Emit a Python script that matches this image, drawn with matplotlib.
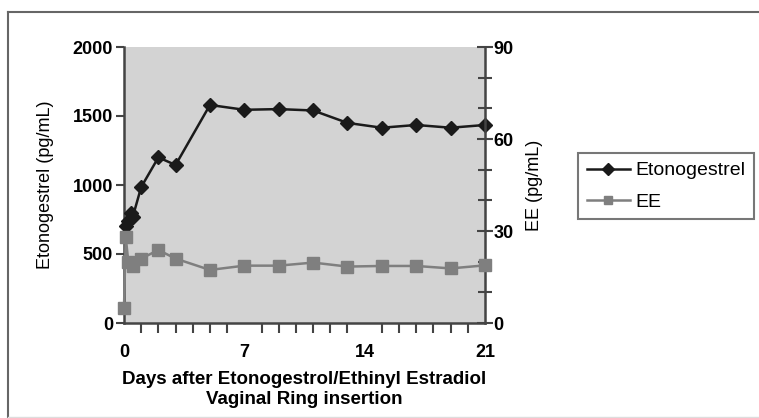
import matplotlib
matplotlib.use("Agg")
import matplotlib.pyplot as plt
from matplotlib.ticker import MultipleLocator, FixedLocator

plt.rcParams['font.family'] = ['Liberation Sans', 'DejaVu Sans']

# data
eto_days = [0.1, 0.25, 0.4, 0.5, 1, 2, 3, 5, 7, 9, 11, 13, 15, 17, 19, 21]
eto_vals = [700, 740, 800, 765, 985, 1200, 1145, 1580, 1545, 1550, 1540, 1450, 1415, 1435, 1415, 1435]
ee_days = [0, 0.1, 0.25, 0.5, 1, 2, 3, 5, 7, 9, 11, 13, 15, 17, 19, 21]
ee_vals = [5, 28, 20, 18.5, 21, 23.8, 21, 17.3, 18.7, 18.7, 19.7, 18.4, 18.6, 18.6, 17.8, 18.8]
x_ticks = [0, 7, 14, 21]
left_ticks = [0, 500, 1000, 1500, 2000]
right_ticks = [0, 30, 60, 90]

fig = plt.figure(figsize=(7.59, 4.18), dpi=100)
# outer frame of the original figure (left and top edges, faint bottom)
tf = fig.transFigure
fig.add_artist(plt.Line2D([8 / 759, 8 / 759], [0, 1 - 12 / 418], transform=tf,
                          color='#666666', linewidth=1.5))
fig.add_artist(plt.Line2D([8 / 759, 1], [1 - 12 / 418, 1 - 12 / 418], transform=tf,
                          color='#666666', linewidth=1.5))
fig.add_artist(plt.Line2D([8 / 759, 1], [1 / 418, 1 / 418], transform=tf,
                          color='#dddddd', linewidth=1))

ax = fig.add_axes([124 / 759, 1 - 323 / 418, (485 - 124) / 759, (323 - 47) / 418])
ax.set_facecolor('#d3d3d3')
ax2 = ax.twinx()

ax.plot(eto_days, eto_vals, color='#1a1a1a', marker='D', markersize=7,
        linewidth=1.8, clip_on=False, zorder=5, label='Etonogestrel')
ax2.plot(ee_days, ee_vals, color='#7f7f7f', marker='s', markersize=9,
         linewidth=1.8, clip_on=False, zorder=5, label='EE')

ax.set_xlim(0, 21)
ax.set_ylim(0, 2000)
ax2.set_ylim(0, 90)

ax.xaxis.set_major_locator(FixedLocator(x_ticks))
ax.xaxis.set_minor_locator(MultipleLocator(1))
ax.yaxis.set_major_locator(FixedLocator(left_ticks))
ax2.yaxis.set_major_locator(FixedLocator(right_ticks))
ax2.yaxis.set_minor_locator(MultipleLocator(10))

for a in (ax, ax2):
    for s in a.spines.values():
        s.set_visible(False)
ax.spines['left'].set_visible(True)
ax.spines['bottom'].set_visible(True)
ax2.spines['right'].set_visible(True)
for s in ('left', 'bottom'):
    ax.spines[s].set_color('#444444')
    ax.spines[s].set_linewidth(1.8)
ax2.spines['right'].set_color('#444444')
ax2.spines['right'].set_linewidth(1.8)

ax.tick_params(axis='x', which='major', length=0, labelsize=13, pad=15)
ax.tick_params(axis='x', which='minor', direction='out', length=7, width=1.5,
               color='#444444')
ax.tick_params(axis='y', direction='out', length=6, width=1.5,
               color='#444444', labelsize=13, pad=2)
ax2.tick_params(axis='y', which='major', direction='inout', length=12, width=1.5,
                color='#444444', labelsize=13, pad=0)
ax2.tick_params(axis='y', which='minor', direction='inout', length=10, width=1.5,
                color='#444444')
for lbl in ax.get_xticklabels() + ax.get_yticklabels() + ax2.get_yticklabels():
    lbl.set_fontweight('bold')

ax.set_ylabel('Etonogestrel (pg/mL)', fontsize=13)
ax.yaxis.set_label_coords(-(124 - 54) / 361, 0.5)
ax2.set_ylabel('EE (pg/mL)', fontsize=13)
ax2.yaxis.set_label_coords(1 + (526 - 485) / 361, 0.5)
ax.set_xlabel('Days after Etonogestrol/Ethinyl Estradiol\nVaginal Ring insertion',
              fontsize=13.5, fontweight='bold', labelpad=7, linespacing=1.3)

h1, l1 = ax.get_legend_handles_labels()
h2, l2 = ax2.get_legend_handles_labels()
leg = fig.legend(h1 + h2, l1 + l2, loc='upper left',
                 bbox_to_anchor=(578 / 759, 1 - 153 / 418), fontsize=14,
                 frameon=True, fancybox=False, edgecolor='#555555',
                 handlelength=2.2, handletextpad=0.3, borderpad=0.45,
                 labelspacing=0.7, borderaxespad=0)
leg.get_frame().set_linewidth(1.5)
for h in leg.legend_handles:
    h.set_markersize(6)

fig.savefig('out.png', dpi=100)
